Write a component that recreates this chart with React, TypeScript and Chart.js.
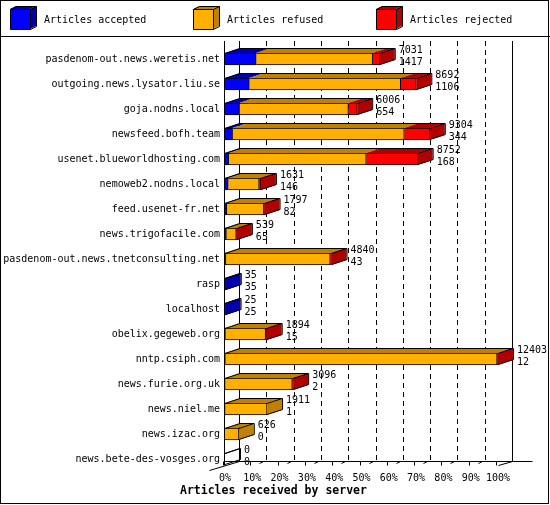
import React, { useEffect, useRef } from 'react';
import { Chart, registerables } from 'chart.js';

Chart.register(...registerables);

// ---- data ----
const servers = [
  'pasdenom-out.news.weretis.net',
  'outgoing.news.lysator.liu.se',
  'goja.nodns.local',
  'newsfeed.bofh.team',
  'usenet.blueworldhosting.com',
  'nemoweb2.nodns.local',
  'feed.usenet-fr.net',
  'news.trigofacile.com',
  'pasdenom-out.news.tnetconsulting.net',
  'rasp',
  'localhost',
  'obelix.gegeweb.org',
  'nntp.csiph.com',
  'news.furie.org.uk',
  'news.niel.me',
  'news.izac.org',
  'news.bete-des-vosges.org',
];
const accepted = [1417, 1106, 654, 344, 168, 146, 82, 65, 43, 35, 25, 15, 12, 2, 1, 0, 0];
const refused = [5289, 6876, 4952, 7800, 6249, 1405, 1685, 444, 4737, 0, 0, 1829, 12351, 3054, 1910, 626, 0];
const rejected = [325, 710, 400, 1160, 2335, 80, 30, 30, 60, 0, 0, 50, 40, 40, 0, 0, 0];
const seriesNames = ['Articles accepted', 'Articles refused', 'Articles rejected'];
const percentTicks = [0, 10, 20, 30, 40, 50, 60, 70, 80, 90, 100];
const axisTitle = 'Articles received by server';

const totals = servers.map((_, i) => accepted[i] + refused[i] + rejected[i]);
const maxTotal = Math.max(...totals);
const toPct = (arr: number[]) => arr.map((v) => (v / maxTotal) * 100);

// ---- style ----
const FRONT = ['#0000ff', '#ffb000', '#ff0000'];
const DARK = ['#0000b0', '#c08000', '#b00000'];
const FONT = "'DejaVu Sans Mono', 'Liberation Mono', monospace";
const BAR_DX = 15;
const BAR_DY = 5;
const WALL_DX = 14;

function line(ctx: CanvasRenderingContext2D, x1: number, y1: number, x2: number, y2: number) {
  ctx.beginPath();
  ctx.moveTo(x1, y1);
  ctx.lineTo(x2, y2);
  ctx.stroke();
}

function poly(ctx: CanvasRenderingContext2D, pts: number[][], fill: string) {
  ctx.beginPath();
  ctx.moveTo(pts[0][0], pts[0][1]);
  for (let i = 1; i < pts.length; i++) ctx.lineTo(pts[i][0], pts[i][1]);
  ctx.closePath();
  ctx.fillStyle = fill;
  ctx.fill();
}

const threeD = {
  id: 'threeD',
  beforeDraw(chart: any) {
    const { ctx, width, height } = chart;
    ctx.save();
    ctx.fillStyle = '#ffffff';
    ctx.fillRect(0, 0, width, height);
    ctx.restore();
  },
  beforeDatasetsDraw(chart: any) {
    const { ctx, chartArea } = chart;
    const x = chart.scales.x;
    const wallTop = 41;
    const floorY = chartArea.bottom - 10;
    ctx.save();
    ctx.strokeStyle = '#000';
    ctx.lineWidth = 1;
    // back wall verticals
    x.ticks.forEach((t: any) => {
      const bx = Math.round(x.getPixelForValue(t.value) + WALL_DX) + 0.5;
      const solid = t.value === x.min || t.value === x.max;
      ctx.setLineDash(solid ? [] : [5, 4]);
      line(ctx, bx, wallTop, bx, floorY);
    });
    ctx.setLineDash([]);
    // front left axis
    const fx0 = Math.round(x.getPixelForValue(x.min)) - 0.5;
    line(ctx, fx0, wallTop, fx0, floorY + 4);
    // floor
    line(ctx, fx0, floorY, Math.round(x.getPixelForValue(x.max)) + 34.5, floorY);
    line(ctx, fx0 - 15, floorY + 9, fx0 + WALL_DX + 1, floorY);
    const fx1 = Math.round(x.getPixelForValue(x.max)) + 0.5;
    line(ctx, fx1, floorY + 4, fx1 + WALL_DX, floorY);
    // tick marks
    x.ticks.forEach((t: any) => {
      const fx = Math.round(x.getPixelForValue(t.value)) - 1.5;
      line(ctx, fx, floorY, fx, floorY + 4);
      if (t.value !== x.min && t.value !== x.max) line(ctx, fx + 9, floorY + 2, fx + 13, floorY);
    });
    ctx.restore();
  },
  afterDatasetsDraw(chart: any) {
    const { ctx } = chart;
    const metas = chart.data.datasets.map((_: any, i: number) => chart.getDatasetMeta(i));
    const n = chart.data.labels.length;
    ctx.save();
    for (let j = 0; j < n; j++) {
      const els = metas.map((m: any) => m.data[j]);
      const e0 = els[0];
      const h = e0.height;
      const top = Math.round(e0.y - h / 2);
      const bottom = top + h;
      const start = Math.min(e0.base, e0.x);
      let end = start;
      let last = -1;
      els.forEach((el: any, i: number) => {
        const a = Math.min(el.base, el.x);
        const b = Math.max(el.base, el.x);
        if (b - a > 0.01) {
          poly(ctx, [[a, top], [b, top], [b + BAR_DX, top - BAR_DY], [a + BAR_DX, top - BAR_DY]], DARK[i]);
          end = Math.max(end, b);
          last = i;
        }
      });
      if (last >= 0) {
        poly(ctx, [[end, top], [end + BAR_DX, top - BAR_DY], [end + BAR_DX, bottom - BAR_DY], [end, bottom]], DARK[last]);
      }
      ctx.strokeStyle = '#000';
      ctx.lineWidth = 1;
      ctx.beginPath();
      ctx.moveTo(start, top + 0.5);
      ctx.lineTo(start + BAR_DX, top - BAR_DY + 0.5);
      ctx.lineTo(end + BAR_DX + 0.5, top - BAR_DY + 0.5);
      ctx.lineTo(end + BAR_DX + 0.5, bottom - BAR_DY - 0.5);
      ctx.lineTo(end, bottom - 0.5);
      ctx.moveTo(end, top + 0.5);
      ctx.lineTo(end + BAR_DX, top - BAR_DY + 0.5);
      ctx.stroke();
      // value labels
      ctx.fillStyle = '#000';
      ctx.font = `10px ${FONT}`;
      ctx.textAlign = 'left';
      ctx.textBaseline = 'middle';
      const tx = end + BAR_DX + 4;
      ctx.fillText(String(totals[j]), tx, e0.y - 9);
      ctx.fillText(String(accepted[j]), tx, e0.y + 3);
    }
    ctx.restore();
  },
  afterDraw(chart: any) {
    const { ctx, width, height } = chart;
    ctx.save();
    ctx.strokeStyle = '#000';
    ctx.lineWidth = 1;
    ctx.strokeRect(0.5, 0.5, width - 2, height - 2);
    line(ctx, 0, 36.5, width, 36.5);
    // legend
    const boxX = [10, 193, 376];
    chart.data.datasets.forEach((ds: any, i: number) => {
      const bx = boxX[i];
      const by = 9;
      const s = 20;
      const d = 6;
      const dy = 3;
      poly(ctx, [[bx, by], [bx + s, by], [bx + s + d, by - dy], [bx + d, by - dy]], DARK[i]);
      poly(ctx, [[bx + s, by], [bx + s + d, by - dy], [bx + s + d, by + s - dy], [bx + s, by + s]], DARK[i]);
      ctx.fillStyle = ds.backgroundColor;
      ctx.fillRect(bx, by, s, s);
      ctx.beginPath();
      ctx.rect(bx + 0.5, by + 0.5, s, s);
      ctx.moveTo(bx + 0.5, by + 0.5);
      ctx.lineTo(bx + d + 0.5, by - dy + 0.5);
      ctx.lineTo(bx + s + d + 0.5, by - dy + 0.5);
      ctx.lineTo(bx + s + d + 0.5, by + s - dy + 0.5);
      ctx.lineTo(bx + s + 0.5, by + s + 0.5);
      ctx.moveTo(bx + s + 0.5, by + 0.5);
      ctx.lineTo(bx + s + d + 0.5, by - dy + 0.5);
      ctx.stroke();
      ctx.fillStyle = '#000';
      ctx.font = `10px ${FONT}`;
      ctx.textAlign = 'left';
      ctx.textBaseline = 'middle';
      ctx.fillText(ds.label, bx + 34, 20);
    });
    // axis title
    ctx.font = `bold 11.5px ${FONT}`;
    ctx.fillStyle = '#000';
    ctx.textBaseline = 'middle';
    ctx.fillText(axisTitle, 180, 491);
    ctx.restore();
  },
};

export default function App() {
  const ref = useRef<HTMLCanvasElement>(null);
  useEffect(() => {
    const chart = new Chart(ref.current as HTMLCanvasElement, {
      type: 'bar',
      data: {
        labels: servers,
        datasets: [accepted, refused, rejected].map((arr, i) => ({
          label: seriesNames[i],
          data: toPct(arr),
          backgroundColor: FRONT[i],
          borderColor: '#000000',
          borderWidth: 1,
          borderSkipped: 'start',
          barThickness: 12,
        })),
      },
      options: {
        indexAxis: 'y',
        responsive: false,
        animation: false,
        layout: { padding: { top: 46.5, right: 52, bottom: 0, left: 0 } },
        plugins: { legend: { display: false }, tooltip: { enabled: false } },
        scales: {
          x: {
            stacked: true,
            min: 0,
            max: 100,
            grid: { display: false, drawTicks: false },
            border: { display: false },
            afterBuildTicks: (s: any) => {
              s.ticks = percentTicks.map((v) => ({ value: v }));
            },
            afterFit: (s: any) => {
              s.height = 33.5;
            },
            ticks: {
              autoSkip: false,
              maxRotation: 0,
              padding: 1,
              color: '#000',
              font: { family: FONT, size: 10 },
              callback: (v: any) => `${v}%`,
            },
          },
          y: {
            stacked: true,
            grid: { display: false, drawTicks: false },
            border: { display: false },
            afterFit: (s: any) => {
              s.width = 225;
            },
            ticks: {
              autoSkip: false,
              padding: 5,
              color: '#000',
              font: { family: FONT, size: 10 },
            },
          },
        },
      },
      plugins: [threeD],
    } as any);
    return () => chart.destroy();
  }, []);
  return (
    <div style={{ position: 'absolute', left: 0, top: 0, width: 550, height: 505 }}>
      <canvas ref={ref} width={550} height={505} style={{ display: 'block' }} />
    </div>
  );
}
